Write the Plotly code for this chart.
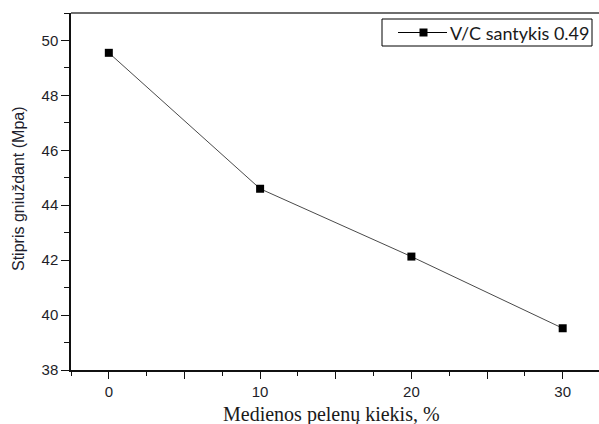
import plotly.graph_objects as go

# Wood ash content (%) and compressive strength (MPa)
ash_content = [0, 10, 20, 30]
strength = [49.55, 44.6, 42.13, 39.52]
series_name = "V/C santykis 0.49"

x_major = [0, 5, 10, 15, 20, 25, 30]
x_major_text = ["0", "", "10", "", "20", "", "30"]
y_major = [38, 40, 42, 44, 46, 48, 50]

W, H = 599, 424
M_L, M_R, M_T, M_B = 71, 0, 13, 54
plot_w = W - M_L - M_R
plot_h = H - M_T - M_B


def px_x(p):
    """Pixel column -> paper x."""
    return (p - M_L) / plot_w


def px_y(p):
    """Pixel row -> paper y."""
    return 1 - (p - M_T) / plot_h


LINE_COLOR = "#4a4a4a"

fig = go.Figure()
fig.add_trace(go.Scatter(
    x=ash_content, y=strength, name=series_name,
    mode="lines+markers",
    line=dict(color=LINE_COLOR, width=1),
    marker=dict(symbol="square", size=8, color="black"),
    showlegend=False,
))

tick_font = dict(family="Liberation Sans, Arial, sans-serif", size=15, color="#1e1e28")

fig.update_xaxes(
    range=[-2.5, 32.4], showgrid=False, zeroline=False,
    showline=True, linecolor="#111111", linewidth=1.5,
    ticks="outside", ticklen=7, tickwidth=1, tickcolor="#111111",
    tickvals=x_major, ticktext=x_major_text, tickfont=tick_font,
    minor=dict(dtick=2.5, tick0=0, ticks="outside", ticklen=4,
               tickwidth=1, tickcolor="#111111", showgrid=False),
)
fig.update_yaxes(
    range=[38, 51], showgrid=False, zeroline=False,
    showline=True, linecolor="#111111", linewidth=1.5,
    ticks="outside", ticklen=8, tickwidth=1, tickcolor="#111111",
    tickvals=y_major, tickfont=tick_font,
    minor=dict(dtick=1, tick0=38, ticks="outside", ticklen=5,
               tickwidth=1, tickcolor="#111111", showgrid=False),
)

# legend box drawn in the upper right corner
leg_l, leg_r, leg_t, leg_b = 382, 592, 19, 46
leg_mid = (leg_t + leg_b) / 2
shapes = [
    # upper frame line of the plot box
    dict(type="line", xref="paper", yref="paper", x0=0, x1=1, y0=1, y1=1,
         line=dict(color="#6e6e6e", width=2)),
    dict(type="rect", xref="paper", yref="paper",
         x0=px_x(leg_l), x1=px_x(leg_r), y0=px_y(leg_b), y1=px_y(leg_t),
         line=dict(color="black", width=1), fillcolor="white"),
    dict(type="line", xref="paper", yref="paper",
         x0=px_x(398), x1=px_x(447), y0=px_y(leg_mid), y1=px_y(leg_mid),
         line=dict(color="black", width=1)),
    dict(type="rect", xref="paper", yref="paper",
         x0=px_x(419.5), x1=px_x(427.5), y0=px_y(leg_mid + 4), y1=px_y(leg_mid - 4),
         line=dict(color="black", width=0), fillcolor="black"),
]

fig.update_layout(
    width=W, height=H,
    margin=dict(l=M_L, r=M_R, t=M_T, b=M_B),
    paper_bgcolor="white", plot_bgcolor="white",
    showlegend=False,
    shapes=shapes,
    annotations=[
        dict(text=series_name, xref="paper", yref="paper",
             x=px_x(448), y=px_y(leg_mid), xanchor="left", yanchor="middle",
             showarrow=False,
             font=dict(family="Lato, sans-serif", size=18, color="#1a1a1a")),
        dict(text="Stipris gniuždant (Mpa)", textangle=-90,
             xref="paper", yref="paper",
             x=px_x(18), y=px_y(189),
             xanchor="center", yanchor="middle", showarrow=False,
             font=dict(family="Liberation Sans, Arial, sans-serif", size=16, color="#1e1e2e")),
        dict(text="Medienos pelenų kiekis, %",
             xref="paper", yref="paper",
             x=px_x(331), y=px_y(414),
             xanchor="center", yanchor="middle", showarrow=False,
             font=dict(family="Liberation Serif, Times New Roman, serif", size=20, color="#1a1a1a")),
    ],
)

fig.write_html("out.html")
